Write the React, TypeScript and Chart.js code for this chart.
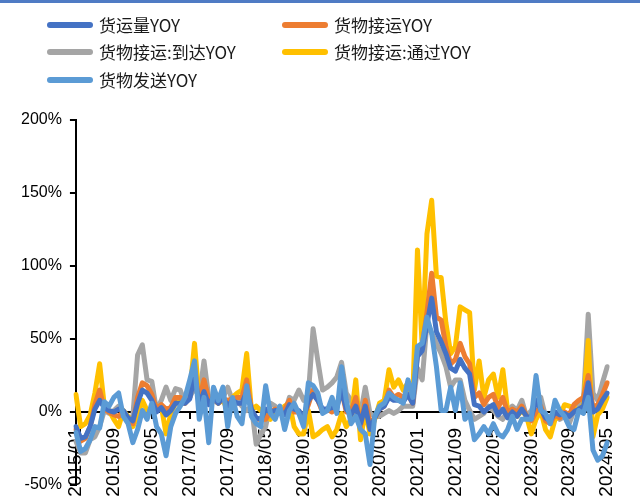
import React, { useEffect, useRef } from 'react';
import { Chart, registerables } from 'chart.js';

Chart.register(...registerables);

// Monthly categories 2015/01 .. 2024/05
const startYear = 2015;
const monthCount = 113;
const months: string[] = Array.from({ length: monthCount }, (_, i) => {
  const y = startYear + Math.floor(i / 12);
  const m = (i % 12) + 1;
  return `${y}/${m < 10 ? '0' + m : m}`;
});

const yTicks = [-50, 0, 50, 100, 150, 200];

const seriesNames = ['货运量YOY', '货物接运YOY', '货物接运:到达YOY', '货物接运:通过YOY', '货物发送YOY'];
const seriesColors = ['#4472C4', '#ED7D31', '#A5A5A5', '#FFC000', '#5B9BD5'];

// 货运量YOY
const freightVolume = [
  -10, -18, -17, -10, 2, 8, 3, 1, 0, 2, 1, -4,
  -6, 6, 15, 13, 8, 0, 3, -2, 1, 6, 6, 6,
  9, 25, 5, 14, 5, 10, 6, 10, 4, 8, 6, 6,
  14, 2, -4, -5, 2, 0, 1, 1, -2, 5, 2, 1,
  -4, 8, 12, 8, 2, 2, 3, 3, 15, 2, -2, 4,
  -8, 4, -12, -4, 2, 4, 10, 8, 8, 7, 12, 6,
  38, 42, 60, 78, 55, 48, 40, 30, 28, 36, 30, 26,
  5, 4, 0, 3, 5, -2, 2, -4, 0, -3, 2, -3,
  -4, 8, 2, -4, -6, 0, -2, -1, -3, 0, 2, 4,
  20, 0, 2, 8, 13,
];

// 货物接运YOY
const cargoReceive = [
  -12, -20, -18, -10, 5, 15, 2, 0, -2, -3, 0, -5,
  -8, 10, 20, 18, 12, 2, 5, 2, 3, 10, 10, 6,
  10, 30, 8, 22, 9, 9, 6, 9, 8, 9, 10, 10,
  22, 2, -5, -5, -5, 0, 2, 0, 2, 8, 0, 0,
  -3, 5, 15, 8, 0, 2, 0, 4, 15, 0, 0, 10,
  -10, 8, -8, -4, 2, 4, 15, 10, 12, 10, 12, 6,
  40, 45, 68, 95, 65, 63, 45, 33, 36, 47, 38, 33,
  10, 13, 5, 10, 12, 3, 10, 0, 2, 0, 4, -3,
  -6, 0, 4, -6, -8, -2, -4, 0, -2, 5, 8, 10,
  25, 3, 5, 12, 20,
];

// 货物接运:到达YOY
const cargoArrival = [
  -20, -28, -28, -19, -17, -10, 1, -1, 1, 4, -1, -5,
  -3, 39, 46, 22, 21, 1, 8, 17, 8, 16, 15, 6,
  10, 17, 10, 35, 10, 8, 6, 10, 17, 8, 8, 4,
  1, 4, -22, -15, -10, 6, 4, 1, -1, 10, 8, 15,
  8, 12, 57, 35, 15, 17, 20, 24, 34, 13, 8, -3,
  -1, 17, -1, -3, -3, -1, 1, -1, 1, 4, 4, 4,
  30, 22, 61, 54, 47, 40, 31, 17, 22, 22, 8, 1,
  -5, -3, -1, 4, 1, -3, -5, 1, 4, 1, 8, -3,
  1, 8, 10, -3, -3, -1, -5, -3, -8, 1, 4, 8,
  67, 13, 8, 20, 31,
];

// 货物接运:通过YOY
const cargoTransit = [
  12, -10, -8, -2, 13, 33, 4, 1, -5, -10, 1, -3,
  -10, -3, 8, 1, 1, 4, 4, -15, -1, 6, 8, 8,
  13, 47, 8, 17, 8, 10, 6, 8, 1, 10, 13, 15,
  40, 1, 4, 1, -1, -5, 1, -1, 4, 6, -10, -15,
  -15, 1, -17, -15, -12, -10, -17, -12, -1, -10, -5, 22,
  -19, 1, -15, -5, 6, 8, 29, 17, 22, 15, 20, 8,
  111, 45, 122, 145, 93, 92, 61, 40, 45, 72, 70, 68,
  15, 35, 10, 22, 26, 10, 29, 1, -1, -3, 1, -3,
  -15, -5, 1, -12, -17, -5, -3, 5, 4, 3, 1, 5,
  49, -17, -2, 2, 10,
];

// 货物发送YOY
const cargoSend = [
  -14, -27, -25, -19, -10, -11, 7, 4, 10, 13, -3, -8,
  -21, -12, 1, -5, 6, -10, -15, -30, -10, -1, 4, 10,
  22, 35, -5, 10, -21, 17, 8, 17, -10, 10, -3, -8,
  18, -3, -8, -10, 18, -1, -5, 4, -12, 1, 6, -1,
  -10, 20, 18, 13, -1, 1, 10, -1, 31, 8, -8, -3,
  -12, -15, -36, -3, 4, 6, 13, 10, 8, 6, 22, 10,
  45, 47, 65, 54, 31, 1, 1, 17, 1, 20, -5, -1,
  -19, -15, -10, -15, -8, -15, -17, -12, -3, -12, -5, -5,
  -5, 25, 1, -1, -8, 8, 1, -3, -10, -12, 1, -1,
  10, -26, -33, -30, -21,
];

const seriesData = [freightVolume, cargoReceive, cargoArrival, cargoTransit, cargoSend];
const seriesOrder = [1, 2, 4, 3, 0];

const legendPos = [
  { x: 47, y: 25 },
  { x: 282, y: 25 },
  { x: 47, y: 52 },
  { x: 282, y: 52 },
  { x: 47, y: 80 },
];

const legendPlugin = {
  id: 'customLegend',
  afterDraw(chart: any) {
    const ctx = chart.ctx;
    ctx.save();
    ctx.fillStyle = '#4F7BC4';
    ctx.fillRect(0, 0, chart.width, 3);
    seriesNames.forEach((name, i) => {
      const p = legendPos[i];
      ctx.strokeStyle = seriesColors[i];
      ctx.lineWidth = 6;
      ctx.lineCap = 'round';
      ctx.beginPath();
      ctx.moveTo(p.x + 3, p.y);
      ctx.lineTo(p.x + 43, p.y);
      ctx.stroke();
      ctx.fillStyle = '#1a1a1a';
      ctx.font = '17px "Noto Sans CJK SC", sans-serif';
      ctx.textBaseline = 'middle';
      ctx.textAlign = 'left';
      ctx.fillText(name, p.x + 52, p.y + 1);
    });
    ctx.restore();
  },
};

export default function App() {
  const canvasRef = useRef<HTMLCanvasElement | null>(null);

  useEffect(() => {
    document.body.style.margin = '0';
    const canvas = canvasRef.current;
    if (!canvas) return;
    Chart.defaults.font.family = '"Liberation Sans", Arial, sans-serif';
    const chart = new Chart(canvas, {
      type: 'line',
      data: {
        labels: months,
        datasets: seriesNames.map((name, i) => ({
          label: name,
          data: seriesData[i],
          borderColor: seriesColors[i],
          backgroundColor: seriesColors[i],
          borderWidth: 5,
          pointRadius: 0,
          tension: 0,
          fill: false,
          borderJoinStyle: 'round' as const,
          borderCapStyle: 'round' as const,
          order: seriesOrder[i],
        })),
      },
      options: {
        responsive: false,
        animation: false,
        layout: { padding: { top: 120, left: 13, right: 13, bottom: 18 } },
        plugins: {
          legend: { display: false },
          tooltip: { enabled: false },
        },
        scales: {
          x: {
            type: 'category',
            position: { y: 0 } as any,
            afterFit: (scale: any) => {
              scale.height = 0;
            },
            grid: {
              drawOnChartArea: false,
              drawTicks: true,
              tickLength: 6,
              lineWidth: 2,
              color: (c: any) => (c.index % 8 === 0 ? '#000000' : 'rgba(0,0,0,0)'),
            },
            border: { display: true, color: '#000000', width: 2 },
            ticks: {
              autoSkip: false,
              minRotation: 90,
              maxRotation: 90,
              padding: 10,
              color: '#000000',
              font: { size: 19 },
              callback: (_v: any, idx: number) => (idx % 8 === 0 ? months[idx] : ''),
            },
          },
          y: {
            type: 'linear',
            min: yTicks[0],
            max: yTicks[yTicks.length - 1],
            afterBuildTicks: (scale: any) => {
              scale.ticks = yTicks.map((v) => ({ value: v }));
            },
            grid: {
              drawOnChartArea: false,
              drawTicks: true,
              tickLength: 6,
              lineWidth: 2,
              color: '#000000',
            },
            border: { display: true, color: '#000000', width: 2 },
            ticks: {
              padding: 8,
              color: '#000000',
              font: { size: 16 },
              callback: (v: any) => `${v}%`,
            },
          },
        },
      },
      plugins: [legendPlugin],
    });
    return () => chart.destroy();
  }, []);

  return (
    <div style={{ width: 640, height: 503, position: 'relative', background: '#fff' }}>
      <canvas ref={canvasRef} width={640} height={503} style={{ display: 'block' }} />
    </div>
  );
}
